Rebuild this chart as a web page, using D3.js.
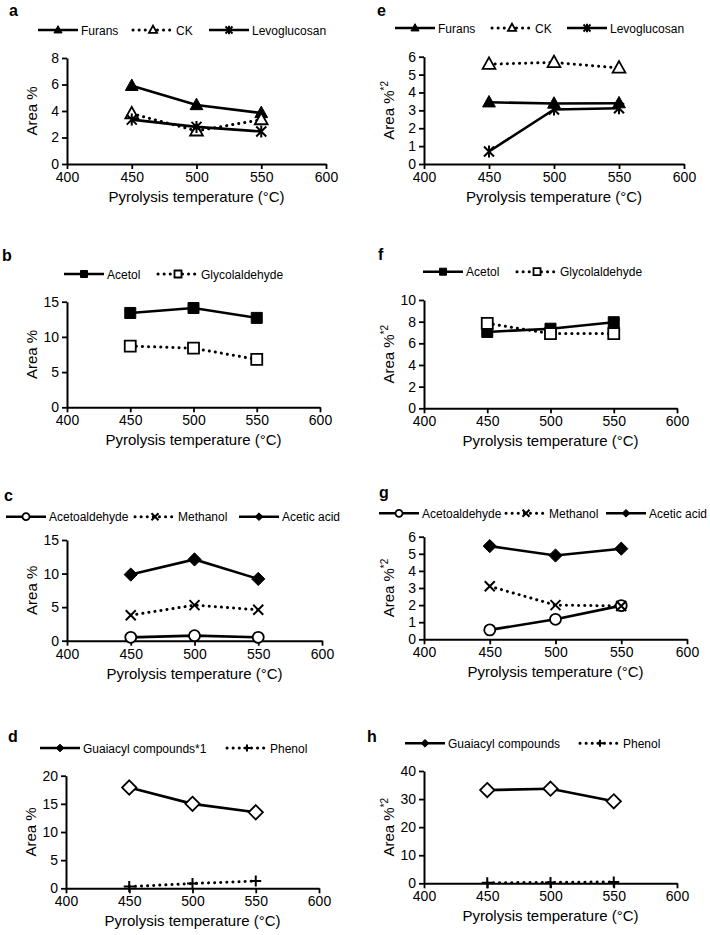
<!DOCTYPE html>
<html>
<head>
<meta charset="utf-8">
<script src="https://cdn.jsdelivr.net/npm/d3@7"></script>
<style>
  body { margin: 0; background: #fff; }
  svg { display: block; font-family: "Liberation Sans", Arial, sans-serif; }
</style>
</head>
<body>
<svg width="710" height="935"></svg>
<script>
// Pyrolysis temperatures (x values)
const temps = [450, 500, 550];
const xTicks = [400, 450, 500, 550, 600];

// Panel a / e : Furans, CK, Levoglucosan
const furansA = [5.9, 4.45, 3.85];
const ckA = [3.8, 2.5, 3.35];
const levoA = [3.35, 2.8, 2.45];
const furansE = [3.45, 3.38, 3.4];
const ckE = [5.58, 5.68, 5.37];
const levoE = [0.7, 3.05, 3.12];

// Panel b / f : Acetol, Glycolaldehyde
const acetolB = [13.4, 14.1, 12.7];
const glycolB = [8.7, 8.4, 6.8];
const acetolF = [7.05, 7.35, 7.95];
const glycolF = [7.85, 6.9, 6.9];

// Panel c / g : Acetoaldehyde, Methanol, Acetic acid
const acetoC = [0.5, 0.75, 0.5];
const methC = [3.8, 5.3, 4.6];
const aceticC = [9.85, 12.1, 9.2];
const acetoG = [0.55, 1.17, 1.97];
const methG = [3.1, 2.0, 1.95];
const aceticG = [5.45, 4.9, 5.3];

// Panel d / h : Guaiacyl compounds, Phenol
const guaiD = [17.9, 15.0, 13.5];
const phenolD = [0.3, 0.85, 1.3];
const guaiH = [33.2, 33.7, 29.2];
const phenolH = [0.2, 0.3, 0.5];

// y tick values per panel
const yTicksA = [0, 2, 4, 6, 8];
const yTicksE = [0, 1, 2, 3, 4, 5, 6];
const yTicksB = [0, 5, 10, 15];
const yTicksF = [0, 2, 4, 6, 8, 10];
const yTicksC = [0, 5, 10, 15];
const yTicksG = [0, 1, 2, 3, 4, 5, 6];
const yTicksD = [0, 5, 10, 15, 20];
const yTicksH = [0, 10, 20, 30, 40];

const svg = d3.select("svg");

// marker path generator, centered at 0,0
function markerPath(type, s) {
  const p = d3.path();
  if (type === "triangle") {
    p.moveTo(0, -s * 0.62); p.lineTo(s * 0.58, s * 0.42); p.lineTo(-s * 0.58, s * 0.42); p.closePath();
  } else if (type === "square") {
    p.rect(-s / 2, -s / 2, s, s);
  } else if (type === "diamond") {
    p.moveTo(0, -s * 0.55); p.lineTo(s * 0.55, 0); p.lineTo(0, s * 0.55); p.lineTo(-s * 0.55, 0); p.closePath();
  } else if (type === "circle") {
    p.arc(0, 0, s / 2, 0, 2 * Math.PI);
  } else if (type === "x") {
    p.moveTo(-s / 2, -s / 2); p.lineTo(s / 2, s / 2);
    p.moveTo(s / 2, -s / 2); p.lineTo(-s / 2, s / 2);
  } else if (type === "star") {
    p.moveTo(-s / 2, -s / 2); p.lineTo(s / 2, s / 2);
    p.moveTo(s / 2, -s / 2); p.lineTo(-s / 2, s / 2);
    p.moveTo(0, -s * 0.6); p.lineTo(0, s * 0.6);
  } else if (type === "plus") {
    p.moveTo(-s / 2, 0); p.lineTo(s / 2, 0);
    p.moveTo(0, -s / 2); p.lineTo(0, s / 2);
  }
  return p.toString();
}

function markerStyle(sel, m) {
  if (m.fill === "black") {
    sel.attr("fill", "#000").attr("stroke", "#000").attr("stroke-width", 1);
  } else if (m.fill === "white") {
    sel.attr("fill", "#fff").attr("stroke", "#000").attr("stroke-width", 1.8);
  } else {
    sel.attr("fill", "none").attr("stroke", "#000").attr("stroke-width", 2);
  }
}

function lineStyle(sel, dotted) {
  sel.attr("fill", "none").attr("stroke", "#000");
  if (dotted) {
    sel.attr("stroke-width", 3).attr("stroke-linecap", "round").attr("stroke-dasharray", "0.1 6");
  } else {
    sel.attr("stroke-width", 2.6);
  }
}

function drawPanel(cfg) {
  const g = svg.append("g");
  const x = d3.scaleLinear().domain([400, 600]).range([cfg.x0, cfg.x1]);
  const y = d3.scaleLinear().domain([0, cfg.yMax]).range([cfg.yBottom, cfg.yTop]);

  // panel letter
  g.append("text").attr("x", cfg.lx).attr("y", cfg.ly)
    .attr("font-weight", "bold").attr("font-size", 16).text(cfg.letter);

  // axes
  const xa = g.append("g").attr("transform", `translate(0,${cfg.yBottom})`)
    .call(d3.axisBottom(x).tickValues(xTicks).tickSize(5).tickSizeOuter(0).tickPadding(3));
  const ya = g.append("g").attr("transform", `translate(${cfg.x0},0)`)
    .call(d3.axisLeft(y).tickValues(cfg.yTicks).tickFormat(d3.format("d"))
      .tickSize(5).tickSizeOuter(0).tickPadding(3));
  [xa, ya].forEach(a => {
    a.select(".domain").attr("stroke", "#000").attr("stroke-width", 2);
    a.selectAll(".tick line").attr("stroke", "#000").attr("stroke-width", 1.8);
    a.selectAll(".tick text").attr("font-size", 14).attr("fill", "#000")
      .attr("font-family", "Liberation Sans, Arial, sans-serif");
  });

  // axis titles
  g.append("text").attr("x", (cfg.x0 + cfg.x1) / 2).attr("y", cfg.yBottom + 38)
    .attr("text-anchor", "middle").attr("font-size", 15).text("Pyrolysis temperature (°C)");
  const yt = g.append("text")
    .attr("transform", `translate(${cfg.x0 - 30},${(cfg.yTop + cfg.yBottom) / 2}) rotate(-90)`)
    .attr("text-anchor", "middle").attr("font-size", 15).text("Area %");
  if (cfg.sup) {
    yt.append("tspan").attr("font-size", 10).attr("dy", -6).text("*2");
  }

  // series lines and markers
  const line = d3.line().x((d, i) => x(temps[i])).y(d => y(d));
  cfg.series.forEach(s => {
    g.append("path").datum(s.values).attr("d", line).call(lineStyle, s.dotted);
  });
  cfg.series.forEach(s => {
    g.selectAll(null).data(s.values).join("path")
      .attr("transform", (d, i) => `translate(${x(temps[i])},${y(d)})`)
      .attr("d", markerPath(s.marker.type, s.marker.size))
      .call(markerStyle, s.marker);
  });

  // legend
  cfg.series.forEach((s, i) => {
    const lx = cfg.legend[i];
    const lg = g.append("g").attr("transform", `translate(${lx},${cfg.legY})`);
    lg.append("path").attr("d", "M0,0H40").call(lineStyle, s.dotted);
    lg.append("path").attr("transform", "translate(20,0)")
      .attr("d", markerPath(s.marker.type, s.marker.legSize || 7))
      .call(markerStyle, s.marker.legFill ? { fill: s.marker.legFill } : s.marker);
    lg.append("text").attr("x", 43).attr("y", 4.5).attr("font-size", 12).text(s.name);
  });
}

const triF = { type: "triangle", size: 11, fill: "black" };
const triO = { type: "triangle", size: 11, fill: "white" };
const star = { type: "star", size: 10, fill: "none" };
const sqF = { type: "square", size: 11, fill: "black" };
const sqO = { type: "square", size: 11, fill: "white" };
const circ = { type: "circle", size: 11, fill: "white" };
const xm = { type: "x", size: 10, fill: "none" };
const diaF = { type: "diamond", size: 12, fill: "black" };
const diaO = { type: "diamond", size: 13, fill: "white", legFill: "black" };
const plus = { type: "plus", size: 11, fill: "none" };

const panels = [
  { letter: "a", lx: 9, ly: 16, x0: 67, x1: 326, yTop: 58, yBottom: 164, yMax: 8, yTicks: yTicksA,
    legY: 30, legend: [38, 133, 209],
    series: [
      { name: "Furans", values: furansA, marker: triF, dotted: false },
      { name: "CK", values: ckA, marker: triO, dotted: true },
      { name: "Levoglucosan", values: levoA, marker: star, dotted: false }] },
  { letter: "e", lx: 377, ly: 16, x0: 424, x1: 684, yTop: 56.7, yBottom: 164, yMax: 6, yTicks: yTicksE, sup: true,
    legY: 28, legend: [395, 492, 567],
    series: [
      { name: "Furans", values: furansE, marker: triF, dotted: false },
      { name: "CK", values: ckE, marker: triO, dotted: true },
      { name: "Levoglucosan", values: levoE, marker: star, dotted: false }] },
  { letter: "b", lx: 2, ly: 261, x0: 67, x1: 320, yTop: 301.7, yBottom: 407.3, yMax: 15, yTicks: yTicksB,
    legY: 274, legend: [64, 158],
    series: [
      { name: "Acetol", values: acetolB, marker: sqF, dotted: false },
      { name: "Glycolaldehyde", values: glycolB, marker: sqO, dotted: true }] },
  { letter: "f", lx: 378, ly: 260, x0: 424, x1: 677, yTop: 300, yBottom: 408.3, yMax: 10, yTicks: yTicksF, sup: true,
    legY: 271.7, legend: [423, 517],
    series: [
      { name: "Acetol", values: acetolF, marker: sqF, dotted: false },
      { name: "Glycolaldehyde", values: glycolF, marker: sqO, dotted: true }] },
  { letter: "c", lx: 4, ly: 501, x0: 67, x1: 322, yTop: 540, yBottom: 640.7, yMax: 15, yTicks: yTicksC,
    legY: 516.7, legend: [6, 135, 239],
    series: [
      { name: "Acetoaldehyde", values: acetoC, marker: circ, dotted: false },
      { name: "Methanol", values: methC, marker: xm, dotted: true },
      { name: "Acetic acid", values: aceticC, marker: diaF, dotted: false }] },
  { letter: "g", lx: 379, ly: 498, x0: 424, x1: 687, yTop: 536.7, yBottom: 639.3, yMax: 6, yTicks: yTicksG, sup: true,
    legY: 513.3, legend: [379, 506, 606],
    series: [
      { name: "Acetoaldehyde", values: acetoG, marker: circ, dotted: false },
      { name: "Methanol", values: methG, marker: xm, dotted: true },
      { name: "Acetic acid", values: aceticG, marker: diaF, dotted: false }] },
  { letter: "d", lx: 8, ly: 742, x0: 66, x1: 319, yTop: 775.7, yBottom: 888.3, yMax: 20, yTicks: yTicksD,
    legY: 748, legend: [40, 227],
    series: [
      { name: "Guaiacyl compounds*1", values: guaiD, marker: diaO, dotted: false },
      { name: "Phenol", values: phenolD, marker: plus, dotted: true }] },
  { letter: "h", lx: 367, ly: 742, x0: 424, x1: 677, yTop: 771, yBottom: 883.3, yMax: 40, yTicks: yTicksH, sup: true,
    legY: 743.3, legend: [405, 580],
    series: [
      { name: "Guaiacyl compounds", values: guaiH, marker: diaO, dotted: false },
      { name: "Phenol", values: phenolH, marker: plus, dotted: true }] }
];

panels.forEach(drawPanel);
</script>
</body>
</html>
